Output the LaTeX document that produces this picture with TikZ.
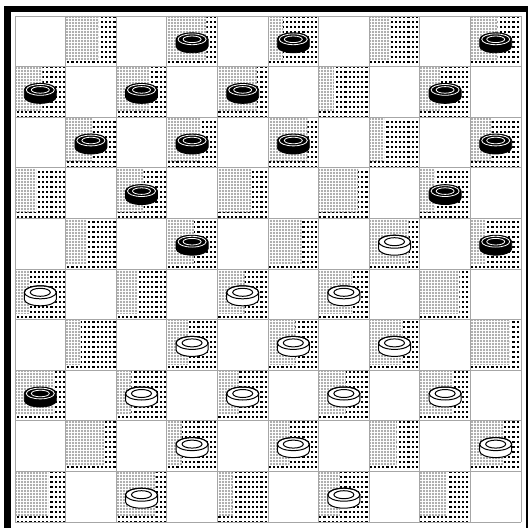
\documentclass[tikz,border=0pt]{standalone}
\usetikzlibrary{patterns}
\pgfdeclarepatternformonly{gdots}{\pgfqpoint{-1pt}{-1pt}}{\pgfqpoint{3pt}{3pt}}{\pgfqpoint{3pt}{3pt}}{\pgfpathcircle{\pgfqpoint{1pt}{1pt}}{1.05pt}\pgfusepath{fill}}
\pgfdeclarepatternformonly{bdots}{\pgfqpoint{-0.5pt}{-0.5pt}}{\pgfqpoint{3pt}{3pt}}{\pgfqpoint{4.2pt}{5pt}}{\pgfpathrectangle{\pgfqpoint{0pt}{0pt}}{\pgfqpoint{2.1pt}{1.9pt}}\pgfusepath{fill}}
\tikzset{
  gridline/.style={draw=gray!70, line width=0.8pt},
  frame/.style={fill=black},
  blackpiece/.style={fill=black, draw=black, line width=0.8pt},
  whitepiece/.style={fill=white, draw=black, line width=1pt},
  ringw/.style={draw=white, line width=0.8pt},
  ringb/.style={draw=black, line width=1pt},
}
\def\w{50.6}
\newcommand\mypiece[3]{%
  \pgfmathsetmacro\cx{15+\w*(#2+0.5)}%
  \pgfmathsetmacro\cy{512-\w*(#1+0.5)}%
  \ifnum#3=1
    \path[blackpiece] (\cx-16,\cy+2) -- (\cx-16,\cy-5) arc[start angle=180,end angle=360,x radius=16,y radius=6.5] -- (\cx+16,\cy+2) arc[start angle=0,end angle=180,x radius=16,y radius=6.5] -- cycle;
    \draw[ringw] (\cx,\cy+2) ellipse[x radius=14,y radius=5.4];
    \draw[ringw] (\cx,\cy+2) ellipse[x radius=9,y radius=3.3];
  \else
    \path[whitepiece] (\cx-16,\cy+2) -- (\cx-16,\cy-5) arc[start angle=180,end angle=360,x radius=16,y radius=6.5] -- (\cx+16,\cy+2) arc[start angle=0,end angle=180,x radius=16,y radius=6.5] -- cycle;
    \draw[ringb] (\cx,\cy+2) ellipse[x radius=16,y radius=6.5];
    \draw[ringb] (\cx,\cy+2) ellipse[x radius=10,y radius=4];
  \fi
}
\begin{document}
\begin{tikzpicture}[x=1pt,y=1pt]
\useasboundingbox (0,0) rectangle (529,528);
\fill[white] (0,0) rectangle (529,528);
% frame
\fill[frame] (4,0) rectangle (11,521.5);
\fill[frame] (4,516) rectangle (527.8,521.5);
\fill[frame] (525.8,0) rectangle (527.8,521.5);
% dark squares texture
\foreach \r in {0,...,9}{
  \foreach \c in {0,...,9}{
    \pgfmathtruncatemacro\odd{mod(\r+\c,2)}
    \ifnum\odd=1
      \pgfmathsetmacro\xa{15+\w*\c}
      \pgfmathsetmacro\yt{512-\w*\r}
      \pgfmathsetmacro\yb{\yt-\w}
      \pgfmathsetmacro\xb{\xa+\w}
      \pgfmathsetmacro\xf{\xa+\w*(0.3+0.12*mod(7*\r+3*\c,5))}
      \path[pattern=gdots, pattern color=gray!85] (\xa,\yb+6) rectangle (\xf,\yt);
      \path[pattern=bdots, pattern color=black] (\xf,\yb) rectangle (\xb,\yt);
      \path[pattern=bdots, pattern color=black] (\xa,\yb) rectangle (\xf,\yb+6);
    \fi
  }
}
% grid
\foreach \i in {0,...,10}{
  \draw[gridline] (15+\w*\i,6) -- (15+\w*\i,512);
  \draw[gridline] (15,6+\w*\i) -- (521,6+\w*\i);
}
% pieces
\foreach \r/\c in {0/3,0/5,0/9,1/0,1/2,1/4,1/8,2/1,2/3,2/5,2/9,3/2,3/8,4/3,4/9,7/0}{\mypiece{\r}{\c}{1}}
\foreach \r/\c in {4/7,5/0,5/4,5/6,6/3,6/5,6/7,7/2,7/4,7/6,7/8,8/3,8/5,8/9,9/2,9/6}{\mypiece{\r}{\c}{0}}
\end{tikzpicture}
\end{document}
